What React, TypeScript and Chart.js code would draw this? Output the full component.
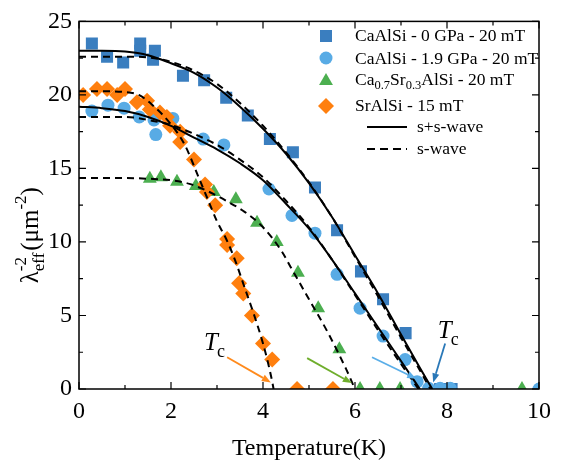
import React, { useEffect, useRef } from 'react';
import { Chart, registerables } from 'chart.js';

Chart.register(...registerables);

// ---------- axis ticks ----------
const xTickValues = [0, 2, 4, 6, 8, 10];
const yTickValues = [0, 5, 10, 15, 20, 25];
const xMinorTicks = [1, 3, 5, 7, 9];
const yMinorTicks = [2.5, 7.5, 12.5, 17.5, 22.5];

// ---------- measured data ----------
// CaAlSi - 0 GPa - 20 mT (squares)
const ca0T = [0.28, 0.61, 0.96, 1.33, 1.33, 1.61, 1.65, 2.26, 2.72, 3.2, 3.67, 4.15, 4.65, 5.13, 5.61, 6.13, 6.61, 7.1, 7.85, 8.1];
const ca0Y = [23.5, 22.6, 22.2, 23.5, 23.0, 22.4, 23.0, 21.3, 21.0, 19.8, 18.6, 17.0, 16.1, 13.7, 10.8, 8.0, 6.1, 3.8, 0, 0];

// CaAlSi - 1.9 GPa - 20 mT (circles)
const ca19T = [0.28, 0.63, 0.98, 1.31, 1.63, 1.67, 2.04, 2.7, 3.15, 4.13, 4.63, 5.13, 5.61, 6.11, 6.61, 7.09, 7.35, 7.6, 7.85, 8.07, 10.0];
const ca19Y = [18.9, 19.3, 19.1, 18.5, 18.3, 17.3, 18.4, 17.0, 16.6, 13.6, 11.8, 10.6, 7.8, 5.5, 3.6, 2.0, 0.5, 0.05, 0.05, 0.05, 0];

// Ca0.7Sr0.3AlSi - 20 mT (triangles)
const casrT = [1.54, 1.78, 2.13, 2.54, 2.93, 3.41, 3.87, 4.3, 4.76, 5.2, 5.66, 6.11, 6.54, 6.98, 9.63];
const casrY = [14.3, 14.4, 14.1, 13.8, 13.4, 12.9, 11.3, 10.0, 7.9, 5.5, 2.7, 0, 0, 0, 0];

// SrAlSi - 15 mT (diamonds)
const srT = [0.09, 0.39, 0.61, 0.83, 1.0, 1.26, 1.48, 1.54, 1.76, 1.91, 1.98, 2.2, 2.2, 2.5, 2.74, 2.78, 2.96, 3.22, 3.22, 3.43, 3.48, 3.57, 3.76, 4.0, 4.2, 4.74, 5.52];
const srY = [20.0, 20.4, 20.4, 20.0, 20.4, 19.5, 19.6, 19.0, 18.8, 18.5, 17.9, 17.5, 16.8, 15.6, 13.9, 13.4, 12.5, 10.2, 9.8, 8.9, 7.2, 6.5, 5.0, 3.1, 2.0, 0, 0];

// ---------- fitted curves ----------
const fitCa0SST = [0, 0.5, 1.0, 1.5, 2.0, 2.5, 3.0, 3.5, 4.0, 4.5, 5.0, 5.5, 6.0, 6.5, 7.0, 7.4, 7.68];
const fitCa0SSY = [23.0, 23.0, 22.95, 22.7, 22.15, 21.5, 20.5, 19.2, 17.7, 16.0, 14.0, 11.7, 9.1, 6.5, 3.7, 1.5, 0];
const fitCa0ST = [0, 0.5, 1.0, 1.5, 2.0, 2.5, 3.0, 3.5, 4.0, 4.5, 5.0, 5.5, 6.0, 6.5, 7.0, 7.35, 7.64];
const fitCa0SY = [22.6, 22.6, 22.6, 22.55, 22.25, 21.65, 20.75, 19.45, 17.9, 16.1, 14.05, 11.7, 9.0, 6.3, 3.5, 1.6, 0];

const fitCa19SST = [0, 0.5, 1.0, 1.5, 2.0, 2.5, 3.0, 3.5, 4.0, 4.5, 5.0, 5.5, 6.0, 6.5, 7.0, 7.41];
const fitCa19SSY = [19.2, 19.1, 18.9, 18.5, 17.9, 17.1, 16.3, 15.35, 14.2, 12.6, 10.9, 8.8, 6.5, 4.2, 1.9, 0];
const fitCa19ST = [0, 0.5, 1.0, 1.5, 2.0, 2.5, 3.0, 3.5, 4.0, 4.5, 5.0, 5.5, 6.0, 6.5, 7.0, 7.38];
const fitCa19SY = [18.5, 18.5, 18.5, 18.3, 17.95, 17.35, 16.6, 15.6, 14.4, 12.8, 11.0, 8.8, 6.4, 4.0, 1.7, 0];

const fitCaSrT = [0, 0.5, 1.0, 1.5, 2.0, 2.4, 2.8, 3.2, 3.6, 4.0, 4.4, 4.6, 5.0, 5.4, 5.8, 6.0];
const fitCaSrY = [14.35, 14.35, 14.35, 14.3, 14.2, 13.95, 13.45, 12.8, 12.05, 11.0, 9.4, 8.3, 6.1, 3.9, 1.4, 0];

const fitSrT = [0, 0.5, 1.0, 1.3, 1.6, 2.0, 2.3, 2.6, 2.8, 3.0, 3.2, 3.4, 3.6, 3.8, 4.0, 4.1, 4.2, 4.23];
const fitSrY = [20.25, 20.25, 20.2, 20.0, 19.3, 18.0, 16.6, 14.4, 12.9, 11.4, 10.2, 8.7, 6.9, 5.1, 3.1, 1.9, 0.5, 0];

const COL_SQ = '#3a7ebf';
const COL_CI = '#58abe5';
const COL_TR = '#4caf50';
const COL_DI = '#ff7f0e';
const FONT = '"Liberation Serif", "Times New Roman", serif';

Chart.defaults.font.family = FONT;

const pts = (xs: number[], ys: number[]) => xs.map((x, i) => ({ x, y: ys[i] }));

function drawMarker(ctx: CanvasRenderingContext2D, style: string, x: number, y: number, r: number, color: string) {
  ctx.save();
  ctx.fillStyle = color;
  ctx.beginPath();
  if (style === 'rect') {
    const s = Math.SQRT1_2 * r;
    ctx.rect(x - s, y - s, 2 * s, 2 * s);
  } else if (style === 'circle') {
    ctx.arc(x, y, r, 0, Math.PI * 2);
  } else if (style === 'triangle') {
    ctx.moveTo(x, y - r);
    ctx.lineTo(x + r * Math.cos(Math.PI / 6), y + r * 0.5);
    ctx.lineTo(x - r * Math.cos(Math.PI / 6), y + r * 0.5);
    ctx.closePath();
  } else {
    ctx.moveTo(x, y - r);
    ctx.lineTo(x + r, y);
    ctx.lineTo(x, y + r);
    ctx.lineTo(x - r, y);
    ctx.closePath();
  }
  ctx.fill();
  ctx.restore();
}

function drawArrow(ctx: CanvasRenderingContext2D, x1: number, y1: number, x2: number, y2: number, color: string) {
  const ang = Math.atan2(y2 - y1, x2 - x1);
  const hl = 9;
  const hw = 3.5;
  const bx = x2 - hl * Math.cos(ang);
  const by = y2 - hl * Math.sin(ang);
  ctx.save();
  ctx.strokeStyle = color;
  ctx.fillStyle = color;
  ctx.lineWidth = 1.8;
  ctx.beginPath();
  ctx.moveTo(x1, y1);
  ctx.lineTo(bx, by);
  ctx.stroke();
  ctx.beginPath();
  ctx.moveTo(x2, y2);
  ctx.lineTo(bx + hw * Math.sin(ang), by - hw * Math.cos(ang));
  ctx.lineTo(bx - hw * Math.sin(ang), by + hw * Math.cos(ang));
  ctx.closePath();
  ctx.fill();
  ctx.restore();
}

function drawTc(ctx: CanvasRenderingContext2D, x: number, y: number) {
  ctx.save();
  ctx.fillStyle = '#000';
  ctx.textBaseline = 'alphabetic';
  ctx.textAlign = 'left';
  ctx.font = `italic 25px ${FONT}`;
  ctx.fillText('T', x, y);
  const w = ctx.measureText('T').width;
  ctx.font = `18px ${FONT}`;
  ctx.fillText('c', x + w - 1, y + 7);
  ctx.restore();
}

const overlayPlugin = {
  id: 'overlay',
  afterDraw(chart: any) {
    const ctx: CanvasRenderingContext2D = chart.ctx;
    const { left, right, top, bottom } = chart.chartArea;
    const xs = chart.scales.x;
    const ys = chart.scales.y;

    // frame
    ctx.save();
    ctx.strokeStyle = '#000';
    ctx.lineWidth = 1.5;
    ctx.strokeRect(left, top, right - left, bottom - top);
    ctx.lineWidth = 1.2;
    ctx.beginPath();
    const major = 7;
    const minor = 4;
    xTickValues.forEach((v) => {
      const px = xs.getPixelForValue(v);
      ctx.moveTo(px, bottom); ctx.lineTo(px, bottom - major);
      ctx.moveTo(px, top); ctx.lineTo(px, top + major);
    });
    xMinorTicks.forEach((v) => {
      const px = xs.getPixelForValue(v);
      ctx.moveTo(px, bottom); ctx.lineTo(px, bottom - minor);
      ctx.moveTo(px, top); ctx.lineTo(px, top + minor);
    });
    yTickValues.forEach((v) => {
      const py = ys.getPixelForValue(v);
      ctx.moveTo(left, py); ctx.lineTo(left + major, py);
      ctx.moveTo(right, py); ctx.lineTo(right - major, py);
    });
    yMinorTicks.forEach((v) => {
      const py = ys.getPixelForValue(v);
      ctx.moveTo(left, py); ctx.lineTo(left + minor, py);
      ctx.moveTo(right, py); ctx.lineTo(right - minor, py);
    });
    ctx.stroke();
    ctx.restore();

    // x title
    ctx.save();
    ctx.fillStyle = '#000';
    ctx.font = `24px ${FONT}`;
    ctx.textAlign = 'center';
    ctx.textBaseline = 'alphabetic';
    ctx.fillText('Temperature(K)', (left + right) / 2, 455);
    ctx.restore();

    // y title (rotated)
    ctx.save();
    ctx.fillStyle = '#000';
    ctx.textBaseline = 'alphabetic';
    ctx.textAlign = 'left';
    const big = `25px ${FONT}`;
    const small = `17px ${FONT}`;
    const parts: [string, string, number][] = [
      ['λ', big, 0],
      ['eff', small, 6],
      ['-2', small, -12],
      [' (μm', big, 0],
      ['-2', small, -12],
      [')', big, 0],
    ];
    let total = 0;
    const widths = parts.map(([t, f]) => {
      ctx.font = f;
      const w = ctx.measureText(t).width;
      total += w;
      return w;
    });
    total -= widths[1];
    ctx.translate(38, (top + bottom) / 2 + 30);
    ctx.rotate(-Math.PI / 2);
    let cx = -total / 2;
    parts.forEach(([t, f, dy], i) => {
      ctx.font = f;
      ctx.fillText(t, cx, dy);
      if (i !== 1) cx += widths[i];
    });
    ctx.restore();

    // legend
    ctx.save();
    const lx = 326;
    const tx = 355;
    drawMarker(ctx, 'rect', lx, 36, 8.5, COL_SQ);
    drawMarker(ctx, 'circle', lx, 58, 6.5, COL_CI);
    drawMarker(ctx, 'triangle', lx, 81, 8, COL_TR);
    drawMarker(ctx, 'rectRot', lx, 106, 8, COL_DI);
    ctx.fillStyle = '#000';
    ctx.textAlign = 'left';
    ctx.textBaseline = 'alphabetic';
    const lf = `17.5px ${FONT}`;
    ctx.font = lf;
    ctx.fillText('CaAlSi - 0 GPa - 20 mT', tx, 41);
    ctx.fillText('CaAlSi - 1.9 GPa - 20 mT', tx, 64);
    let px = tx;
    const seg: [string, boolean][] = [['Ca', false], ['0.7', true], ['Sr', false], ['0.3', true], ['AlSi - 20 mT', false]];
    seg.forEach(([t, sub]) => {
      ctx.font = sub ? `12.5px ${FONT}` : lf;
      ctx.fillText(t, px, sub ? 89 : 85);
      px += ctx.measureText(t).width;
    });
    ctx.font = lf;
    ctx.fillText('SrAlSi - 15 mT', tx, 111);
    ctx.fillText('s+s-wave', 417, 132);
    ctx.fillText('s-wave', 417, 154);
    ctx.strokeStyle = '#000';
    ctx.lineWidth = 2;
    ctx.beginPath();
    ctx.moveTo(367, 127); ctx.lineTo(407, 127);
    ctx.stroke();
    ctx.setLineDash([8, 5]);
    ctx.beginPath();
    ctx.moveTo(367, 149); ctx.lineTo(407, 149);
    ctx.stroke();
    ctx.restore();

    // Tc arrows
    const X = (v: number) => xs.getPixelForValue(v);
    const Y = (v: number) => ys.getPixelForValue(v);
    drawArrow(ctx, X(3.22), Y(2.16), X(4.17), Y(0.45), '#ff8a1c');
    drawArrow(ctx, X(4.96), Y(2.1), X(5.93), Y(0.4), '#6fae2c');
    drawArrow(ctx, X(6.37), Y(2.16), X(7.33), Y(0.7), '#5aaee8');
    drawArrow(ctx, X(7.96), Y(3.1), X(7.7), Y(0.45), '#2a78b8');
    drawTc(ctx, X(2.72), Y(2.65));
    drawTc(ctx, X(7.8), Y(3.5));
  },
};

export default function App() {
  const ref = useRef<HTMLCanvasElement | null>(null);

  useEffect(() => {
    if (!ref.current) return;
    const markerBase = { showLine: false, pointBorderWidth: 0, borderWidth: 0 };
    const curveBase = {
      showLine: true,
      pointRadius: 0,
      borderColor: '#000',
      borderWidth: 2,
      cubicInterpolationMode: 'monotone' as const,
      fill: false,
      order: 0,
    };
    const chart = new Chart(ref.current, {
      type: 'scatter',
      data: {
        datasets: [
          { ...curveBase, label: 'fit1', data: pts(fitCa0SST, fitCa0SSY) },
          { ...curveBase, label: 'fit2', data: pts(fitCa0ST, fitCa0SY), borderDash: [7, 5] },
          { ...curveBase, label: 'fit3', data: pts(fitCa19SST, fitCa19SSY) },
          { ...curveBase, label: 'fit4', data: pts(fitCa19ST, fitCa19SY), borderDash: [7, 5] },
          { ...curveBase, label: 'fit5', data: pts(fitCaSrT, fitCaSrY), borderDash: [7, 5] },
          { ...curveBase, label: 'fit6', data: pts(fitSrT, fitSrY), borderDash: [7, 5] },
          { ...markerBase, label: 'CaAlSi - 0 GPa - 20 mT', data: pts(ca0T, ca0Y), pointStyle: 'rect', pointRadius: 8.5, pointBackgroundColor: COL_SQ, backgroundColor: COL_SQ, order: 4 },
          { ...markerBase, label: 'CaAlSi - 1.9 GPa - 20 mT', data: pts(ca19T, ca19Y), pointStyle: 'circle', pointRadius: 6.5, pointBackgroundColor: COL_CI, backgroundColor: COL_CI, order: 3 },
          { ...markerBase, label: 'Ca0.7Sr0.3AlSi - 20 mT', data: pts(casrT, casrY), pointStyle: 'triangle', pointRadius: 8, pointBackgroundColor: COL_TR, backgroundColor: COL_TR, order: 2 },
          { ...markerBase, label: 'SrAlSi - 15 mT', data: pts(srT, srY), pointStyle: 'rectRot', pointRadius: 8, pointBackgroundColor: COL_DI, backgroundColor: COL_DI, order: 1 },
        ] as any,
      },
      options: {
        responsive: false,
        animation: false,
        events: [],
        layout: { padding: { left: 0, top: 18, right: 42, bottom: 0 } },
        plugins: { legend: { display: false }, tooltip: { enabled: false } },
        scales: {
          x: {
            type: 'linear',
            min: 0,
            max: 10,
            afterBuildTicks: (s: any) => { s.ticks = xTickValues.map((v) => ({ value: v })); },
            afterFit: (s: any) => { s.height = 82; },
            grid: { display: false, drawTicks: false },
            border: { display: false },
            ticks: { color: '#000', font: { family: FONT, size: 24 }, padding: 8, maxRotation: 0, autoSkip: false },
          },
          y: {
            type: 'linear',
            min: 0,
            max: 25,
            afterBuildTicks: (s: any) => { s.ticks = yTickValues.map((v) => ({ value: v })); },
            afterFit: (s: any) => { s.width = 79; },
            grid: { display: false, drawTicks: false },
            border: { display: false },
            ticks: { color: '#000', font: { family: FONT, size: 24 }, padding: 7, autoSkip: false },
          },
        },
      } as any,
      plugins: [overlayPlugin],
    });
    return () => chart.destroy();
  }, []);

  return (
    <div style={{ position: 'fixed', left: 0, top: 0, width: 581, height: 471, background: '#fff' }}>
      <canvas ref={ref} width={581} height={471} style={{ display: 'block', width: 581, height: 471 }} />
    </div>
  );
}
